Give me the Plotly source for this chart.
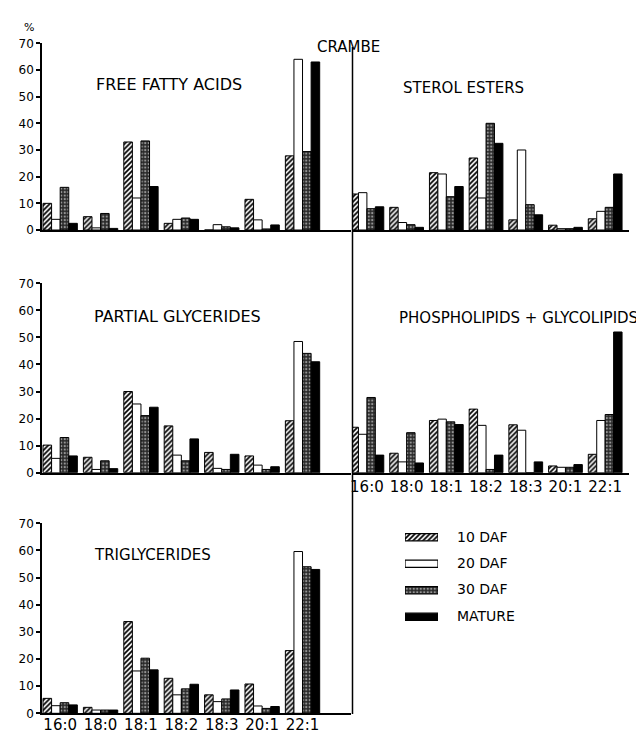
import plotly.graph_objects as go

# page body has an 8px margin, so the figure is sized to fit the 644x733 window
PAGE_W, PAGE_H, BODY_M = 644, 733, 8
W, H = PAGE_W - BODY_M, PAGE_H - BODY_M

categories = ["16:0", "18:0", "18:1", "18:2", "18:3", "20:1", "22:1"]
series_names = ["10 DAF", "20 DAF", "30 DAF", "MATURE"]
y_ticks = [0, 10, 20, 30, 40, 50, 60, 70]

# Free fatty acids
ffa_10daf = [10, 5, 33, 2.5, 0, 11.5, 27.8]
ffa_20daf = [4, 0.8, 12, 4, 2, 3.8, 64]
ffa_30daf = [16, 6.2, 33.4, 4.5, 1.2, 0.4, 29.4]
ffa_mature = [2.5, 0.6, 16.3, 4, 0.8, 1.9, 63]

# Sterol esters
se_10daf = [13.5, 8.5, 21.5, 27, 3.8, 1.8, 4.2]
se_20daf = [14, 2.8, 21, 12, 30, 0.5, 7]
se_30daf = [8, 2, 12.5, 40, 9.5, 0.5, 8.5]
se_mature = [8.7, 1, 16.3, 32.5, 5.7, 1, 21]

# Partial glycerides
pg_10daf = [10.2, 5.7, 30, 17.3, 7.5, 6.2, 19.2]
pg_20daf = [5.3, 1.2, 25.4, 6.5, 1.6, 2.8, 48.5]
pg_30daf = [13, 4.4, 21.1, 4.4, 1.2, 1.2, 44.1]
pg_mature = [6.2, 1.5, 24.2, 12.5, 6.8, 2.2, 41]

# Phospholipids + glycolipids
plgl_10daf = [16.8, 7.2, 19.3, 23.5, 17.7, 2.5, 6.8]
plgl_20daf = [14.2, 4, 19.8, 17.5, 15.7, 2, 19.3]
plgl_30daf = [27.8, 14.8, 18.8, 1.2, 0, 2, 21.5]
plgl_mature = [6.5, 3.6, 17.8, 6.5, 4, 3, 52]

# Triglycerides
tg_10daf = [5.5, 2.2, 33.8, 12.9, 6.8, 10.8, 23.1]
tg_20daf = [2.8, 1.2, 15.6, 6.8, 4.3, 2.7, 59.6]
tg_30daf = [3.9, 1.2, 20.3, 9, 5.3, 1.8, 54]
tg_mature = [3.1, 1.2, 16, 10.7, 8.6, 2.5, 53]

panels = [
    ("FREE FATTY ACIDS", [ffa_10daf, ffa_20daf, ffa_30daf, ffa_mature], "x", "y"),
    ("STEROL ESTERS", [se_10daf, se_20daf, se_30daf, se_mature], "x2", "y2"),
    ("PARTIAL GLYCERIDES", [pg_10daf, pg_20daf, pg_30daf, pg_mature], "x3", "y3"),
    ("PHOSPHOLIPIDS + GLYCOLIPIDS", [plgl_10daf, plgl_20daf, plgl_30daf, plgl_mature], "x4", "y4"),
    ("TRIGLYCERIDES", [tg_10daf, tg_20daf, tg_30daf, tg_mature], "x5", "y5"),
]

DOT_BG = "#2a2a2a"
styles = [
    dict(color="white", pattern=dict(shape="/", fgcolor="black", bgcolor="white", size=3.5, solidity=0.5)),
    dict(color="white"),
    dict(color=DOT_BG, pattern=dict(shape=".", fgcolor="white", bgcolor=DOT_BG, size=3.5, solidity=0.35, fillmode="overlay")),
    dict(color="black"),
]

FONT = "DejaVu Sans"


def px(x):
    return (x - BODY_M) / W


def py(y):
    return 1 - (y - BODY_M) / H


fig = go.Figure()
xpos = list(range(len(categories)))
for title, series, xa, ya in panels:
    for name, vals, st in zip(series_names, series, styles):
        marker = dict(color=st["color"], line=dict(color="black", width=1))
        if "pattern" in st:
            marker["pattern"] = st["pattern"]
        fig.add_trace(go.Bar(x=xpos, y=vals, name=name, marker=marker,
                             xaxis=xa, yaxis=ya, showlegend=False))

# legend keys drawn as horizontal bars in their own small axis
for i, (name, st) in enumerate(zip(series_names, styles)):
    marker = dict(color=st["color"], line=dict(color="black", width=1.2))
    if "pattern" in st:
        marker["pattern"] = dict(st["pattern"])
    fig.add_trace(go.Bar(x=[1], y=[i], orientation="h", width=0.27, offsetgroup="legend",
                         xaxis="x6", yaxis="y6", showlegend=False, marker=marker,
                         hoverinfo="skip"))

left_dom = [px(42), px(351)]
right_dom = [px(353), px(629)]
row_top = [py(230), py(43.3)]
row_mid = [py(472.7), py(283.3)]
row_bot = [py(713.3), py(523.3)]

xbase = dict(showline=True, linecolor="black", linewidth=1.5, ticks="", showgrid=False,
             zeroline=False, automargin=False,
             tickfont=dict(family=FONT, size=15, color="black"))
xlab = dict(tickvals=xpos, ticktext=categories, **xbase)
yleft = dict(range=[0, 70], tickvals=y_ticks, ticks="outside", ticklen=4, tickwidth=1.5,
             tickcolor="black", showline=True, linecolor="black", linewidth=1.5,
             showgrid=False, zeroline=False, automargin=False,
             tickfont=dict(family=FONT, size=12, color="black"))
yright = dict(range=[0, 70], showticklabels=False, showline=False, showgrid=False,
              zeroline=False, ticks="", automargin=False)

fig.update_layout(
    template="none",
    width=W, height=H, margin=dict(l=0, r=0, t=0, b=0, pad=0),
    paper_bgcolor="white", plot_bgcolor="white",
    barmode="group", bargap=0.15, bargroupgap=0,
    xaxis=dict(domain=left_dom, range=[-0.45, 7.2], anchor="y", showticklabels=False, **xbase),
    yaxis=dict(domain=row_top, anchor="x", **yleft),
    xaxis2=dict(domain=right_dom, range=[-0.35, 6.6], anchor="y2", showticklabels=False, **xbase),
    yaxis2=dict(domain=row_top, anchor="x2", **yright),
    xaxis3=dict(domain=left_dom, range=[-0.45, 7.2], anchor="y3", showticklabels=False, **xbase),
    yaxis3=dict(domain=row_mid, anchor="x3", **yleft),
    xaxis4=dict(domain=right_dom, range=[-0.35, 6.6], anchor="y4", **xlab),
    yaxis4=dict(domain=row_mid, anchor="x4", **yright),
    xaxis5=dict(domain=left_dom, range=[-0.45, 7.2], anchor="y5", ticklabelstandoff=-3, **xlab),
    yaxis5=dict(domain=row_bot, anchor="x5", **yleft),
    xaxis6=dict(domain=[px(405), px(438)], range=[0, 1], anchor="y6", visible=False, automargin=False),
    yaxis6=dict(domain=[py(630), py(524)], range=[3.5, -0.5], anchor="x6", visible=False, automargin=False),
)

# separator vertical line
fig.add_shape(type="line", xref="paper", yref="paper", x0=px(352.5), x1=px(352.5),
              y0=py(47), y1=py(714), line=dict(color="black", width=1.5))

titles_pos = [(169, 84, "center", 16), (463, 88, "center", 15), (177, 316, "center", 16),
              (640, 318, "right", 15), (152, 555, "center", 15)]
for (title, _, _, _), (tx, ty, anc, fs) in zip(panels, titles_pos):
    fig.add_annotation(text=title, x=px(tx), y=py(ty), xref="paper", yref="paper",
                       showarrow=False, font=dict(family=FONT, size=fs, color="black"),
                       xanchor=anc, yanchor="middle")

fig.add_annotation(text="CRAMBE", x=px(348), y=py(36), xref="paper", yref="paper",
                   showarrow=False, font=dict(family=FONT, size=15, color="black"))
fig.add_annotation(text="%", x=px(22), y=py(19), xref="paper", yref="paper",
                   showarrow=False, font=dict(family=FONT, size=11, color="black"))

legend_rows = [537, 563, 589, 616]
for name, ly in zip(series_names, legend_rows):
    fig.add_annotation(text=name, x=px(455), y=py(ly), xref="paper", yref="paper",
                       showarrow=False, xanchor="left", yanchor="middle",
                       font=dict(family=FONT, size=14, color="black"))

fig.write_html("out.html")
